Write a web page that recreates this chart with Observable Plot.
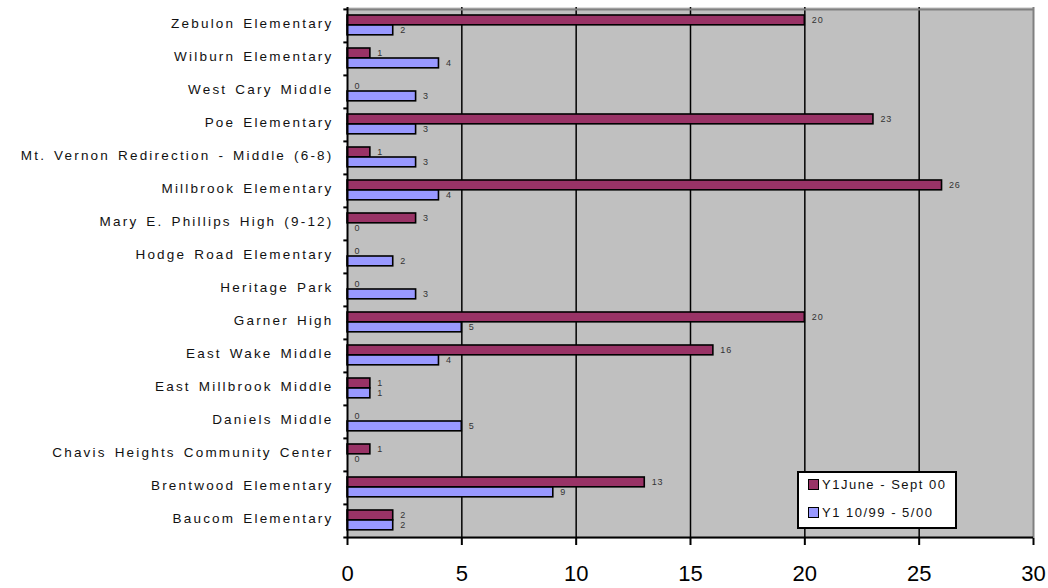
<!DOCTYPE html>
<html>
<head>
<meta charset="utf-8">
<script src="https://cdn.jsdelivr.net/npm/d3@7"></script>
<script src="https://cdn.jsdelivr.net/npm/@observablehq/plot@0.6"></script>
<style>
  html, body { margin: 0; padding: 0; background: #fff; }
  #wrap { position: relative; width: 1048px; height: 588px; overflow: hidden; font-family: "Liberation Sans", Arial, sans-serif; }
  g[aria-label="y-axis tick label"] text { letter-spacing: 2.2px; word-spacing: 2px; font-size: 13.5px; fill: #111; }
  g[aria-label="x-axis tick label"] text { font-size: 22px; fill: #000; }
  g.vlabels text { letter-spacing: 0.8px; }
  #legend { position: absolute; left: 797px; top: 471px; width: 156px; height: 54px; background: #fff; border: 2px solid #000; font-size: 13px; letter-spacing: 1.5px; color: #111; }
  #legend .row { position: absolute; left: 9px; display: flex; align-items: center; }
  #legend .sw { width: 9px; height: 9px; border: 1.5px solid #000; margin-right: 3px; }
</style>
</head>
<body>
<div id="wrap"></div>
<script>
// ---- data (top to bottom, as in the chart) ----
const categories = [
  "Zebulon Elementary", "Wilburn Elementary", "West Cary Middle", "Poe Elementary",
  "Mt. Vernon Redirection - Middle (6-8)", "Millbrook Elementary", "Mary E. Phillips High (9-12)",
  "Hodge Road Elementary", "Heritage Park", "Garner High", "East Wake Middle",
  "East Millbrook Middle", "Daniels Middle", "Chavis Heights Community Center",
  "Brentwood Elementary", "Baucom Elementary"
];
const seriesNames = ["Y1June - Sept 00", "Y1 10/99 - 5/00"];
const juneSept00 = [20, 1, 0, 23, 1, 26, 3, 0, 0, 20, 16, 1, 0, 1, 13, 2];
const oct99May00 = [2, 4, 3, 3, 3, 4, 0, 2, 3, 5, 4, 1, 5, 0, 9, 2];
const xTicks = [0, 5, 10, 15, 20, 25, 30];
const seriesColors = ["#993366", "#9999FF"];

// ---- build table ----
const rows = [];
categories.forEach((c, i) => {
  rows.push({school: c, series: seriesNames[0], value: juneSept00[i]});
  rows.push({school: c, series: seriesNames[1], value: oct99May00[i]});
});
const s0 = rows.filter(d => d.series === seriesNames[0]);
const s1 = rows.filter(d => d.series === seriesNames[1]);

const W = 1048, H = 588, mL = 347, mR = 15, mT = 7, mB = 50;
const bw = (H - mT - mB) / categories.length;

const chart = Plot.plot({
  width: W, height: H,
  marginLeft: mL, marginRight: mR, marginTop: mT, marginBottom: mB,
  style: {fontFamily: "Liberation Sans, Arial, sans-serif", background: "transparent", overflow: "visible"},
  x: {domain: [0, 30]},
  y: {domain: categories, padding: 0},
  marks: [
    Plot.frame({fill: "#c0c0c0", stroke: null}),
    Plot.ruleX([5, 10, 15, 20, 25], {stroke: "#000", strokeWidth: 1.5}),
    Plot.ruleX([30], {stroke: "#808080", strokeWidth: 2}),
    Plot.ruleY([{school: categories[0]}], {y: "school", dy: -bw / 2, x1: 0, x2: 30, stroke: "#808080", strokeWidth: 2}),
    Plot.barX(s0, {x: "value", y: "school", fill: seriesColors[0], stroke: "#000", strokeWidth: 1.6,
      insetTop: 6, insetBottom: bw - 16}),
    Plot.barX(s1, {x: "value", y: "school", fill: seriesColors[1], stroke: "#000", strokeWidth: 1.6,
      insetTop: 16, insetBottom: bw - 26}),
    Plot.text(s0, {x: "value", y: "school", text: d => String(d.value), dx: 7, dy: -6,
      textAnchor: "start", fontSize: 9, fill: "#333", className: "vlabels"}),
    Plot.text(s1, {x: "value", y: "school", text: d => String(d.value), dx: 7, dy: 4,
      textAnchor: "start", fontSize: 9, fill: "#333", className: "vlabels"}),
    Plot.ruleX([0], {stroke: "#000", strokeWidth: 2}),
    Plot.ruleY(categories.map(c => ({school: c})), {y: "school", dy: -bw / 2, x1: -0.16, x2: 0, stroke: "#000", strokeWidth: 2}),
    Plot.ruleY([{school: categories[categories.length - 1]}], {y: "school", dy: bw / 2, x1: -0.16, x2: 30, stroke: "#000", strokeWidth: 2}),
    Plot.axisY({tickSize: 0, tickPadding: 14, dy: -2, label: null}),
    Plot.axisX({ticks: xTicks, tickSize: 7, tickPadding: 20, strokeWidth: 2, label: null, tickFormat: d => String(d)})
  ]
});

const wrap = document.getElementById("wrap");
wrap.appendChild(chart);

const legend = document.createElement("div");
legend.id = "legend";
seriesNames.forEach((name, i) => {
  const row = document.createElement("div");
  row.className = "row";
  row.style.top = (i === 0 ? 4 : 32) + "px";
  const sw = document.createElement("div");
  sw.className = "sw";
  sw.style.background = seriesColors[i];
  const t = document.createElement("span");
  t.textContent = name;
  row.appendChild(sw);
  row.appendChild(t);
  legend.appendChild(row);
});
wrap.appendChild(legend);
</script>
</body>
</html>
